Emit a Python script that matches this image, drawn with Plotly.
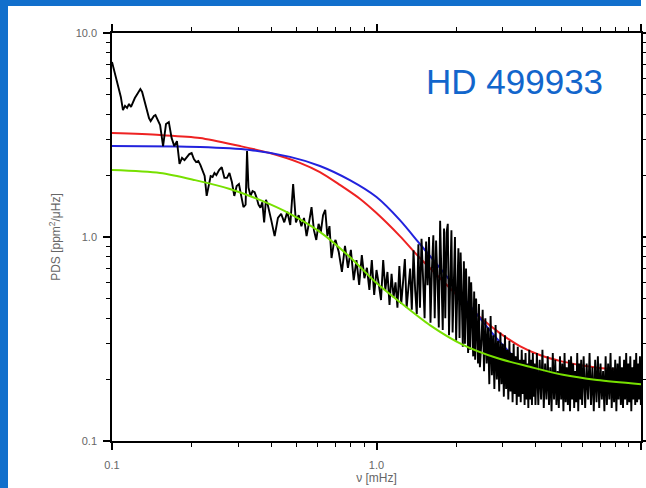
import base64
import plotly.graph_objects as go

# ---------------- data ----------------
# observed power density spectrum
freq = [
    0.100, 0.102, 0.104, 0.106, 0.108, 0.110, 0.112, 0.114, 0.116, 0.118,
    0.120, 0.122, 0.124, 0.126, 0.128, 0.130, 0.132, 0.134, 0.136, 0.138,
    0.140, 0.142, 0.144, 0.146, 0.148, 0.152, 0.156, 0.160, 0.164, 0.168,
    0.172, 0.176, 0.180, 0.184, 0.188, 0.192, 0.196, 0.200, 0.204, 0.208,
    0.212, 0.216, 0.220, 0.224, 0.228, 0.232, 0.236, 0.240, 0.244, 0.248,
    0.254, 0.260, 0.266, 0.272, 0.278, 0.284, 0.290, 0.296, 0.302, 0.308,
    0.314, 0.320, 0.324, 0.328, 0.334, 0.340, 0.346, 0.352, 0.358, 0.364,
    0.370, 0.376, 0.382, 0.388, 0.394, 0.400,
    0.412, 0.424, 0.436, 0.448, 0.460, 0.472, 0.484, 0.496, 0.508, 0.520,
    0.532, 0.544, 0.556, 0.568, 0.580, 0.592, 0.604, 0.616, 0.628, 0.640,
    0.652, 0.664, 0.676, 0.688, 0.700,
    0.72, 0.74, 0.76, 0.78, 0.80, 0.82, 0.84, 0.86, 0.88, 0.90,
    0.92, 0.94, 0.96, 0.98, 1.00, 1.02, 1.04, 1.06, 1.08, 1.10,
    1.12, 1.14, 1.16, 1.18, 1.20,
    1.22, 1.24, 1.26, 1.28, 1.30, 1.32, 1.34, 1.36, 1.38, 1.40,
    1.42, 1.44, 1.46, 1.48, 1.50, 1.52, 1.54, 1.56, 1.58, 1.60,
    1.62, 1.64, 1.66, 1.68, 1.70, 1.72, 1.74, 1.76, 1.78, 1.80,
    1.82, 1.84, 1.86, 1.88, 1.90, 1.92, 1.94, 1.96, 1.98, 2.00,
    2.02, 2.04, 2.06, 2.08, 2.10, 2.12, 2.14, 2.16, 2.18, 2.20,
    2.22, 2.24, 2.26, 2.28, 2.30, 2.32, 2.34, 2.36, 2.38, 2.40,
    2.42, 2.44, 2.46,
    2.49, 2.52, 2.55, 2.58, 2.61, 2.64, 2.67, 2.70, 2.73, 2.76,
    2.79, 2.82, 2.85, 2.88, 2.91, 2.94, 2.97, 3.00, 3.03, 3.06,
    3.09, 3.12, 3.15, 3.18, 3.21, 3.24, 3.27, 3.30, 3.33, 3.36,
    3.39, 3.42, 3.45, 3.48, 3.51, 3.54, 3.57, 3.60, 3.63, 3.66,
    3.69, 3.72, 3.75, 3.78, 3.81, 3.84, 3.87, 3.90, 3.93, 3.96,
    3.99,
    4.04, 4.09, 4.14, 4.19, 4.24, 4.29, 4.34, 4.39, 4.44, 4.49,
    4.54, 4.59, 4.64, 4.69, 4.74, 4.79, 4.84, 4.89, 4.94, 4.99,
    5.04, 5.09, 5.14, 5.19, 5.24, 5.29, 5.34, 5.39, 5.44, 5.49,
    5.54, 5.59, 5.64, 5.69, 5.74, 5.79, 5.84, 5.89, 5.94, 5.99,
    6.07, 6.15, 6.23, 6.31, 6.39, 6.47, 6.55, 6.63, 6.71, 6.79,
    6.87, 6.95, 7.03, 7.11, 7.19, 7.27, 7.35, 7.43, 7.51, 7.59,
    7.67, 7.75, 7.83, 7.91, 7.99, 8.07, 8.15, 8.23, 8.31, 8.39,
    8.47, 8.55, 8.63, 8.71, 8.79, 8.87, 8.95, 9.03, 9.11, 9.19,
    9.27, 9.35, 9.43, 9.51, 9.59, 9.67, 9.75, 9.83, 9.91, 9.99,
]
psd = [
    7.21, 6.51, 6.02, 5.44, 4.86, 4.19, 4.39, 4.29, 4.49, 4.34,
    4.59, 4.80, 4.97, 5.14, 5.31, 5.14, 4.75, 4.34, 4.01, 3.83,
    3.70, 3.83, 3.92, 3.96, 3.79, 3.54, 2.79, 3.58, 3.66, 3.06,
    2.79, 2.95, 2.28, 2.44, 2.38, 2.47, 2.55, 2.58, 2.41, 2.33,
    2.36, 2.25, 2.13, 1.99, 1.59, 1.80, 1.99, 1.97, 2.06, 2.01,
    2.13, 2.20, 1.95, 1.95, 2.06, 1.86, 1.59, 1.78, 1.82, 1.59,
    1.40, 1.44, 2.64, 1.75, 1.59, 1.68, 1.66, 1.56, 1.44, 1.39,
    1.48, 1.18, 1.52, 1.44, 1.33, 1.21,
    1.01, 1.24, 1.30, 1.18, 1.33, 1.145, 1.82, 1.18, 1.28, 1.13,
    1.24, 1.01, 1.18, 1.40, 1.08, 0.967, 1.16, 1.06, 1.28, 1.36,
    1.01, 1.13, 0.789, 0.914, 0.967,
    0.844, 0.674, 0.905, 0.706, 0.864, 0.615, 0.771, 0.582, 0.816, 0.628,
    0.706, 0.550, 0.771, 0.520, 0.689, 0.588, 0.491, 0.771, 0.550, 0.674,
    0.464, 0.660, 0.505, 0.600, 0.450,
    0.72, 0.47, 0.60, 0.78, 0.45, 0.56, 0.70, 0.44, 0.86, 0.55,
    0.42, 0.92, 0.45, 0.98, 0.60, 0.40, 0.95, 0.58, 1.00, 0.38,
    0.70, 1.02, 0.40, 0.96, 0.62, 0.36, 1.20, 0.66, 0.35, 1.10,
    0.40, 1.05, 1.16, 0.33, 0.70, 1.08, 0.34, 0.60, 1.00, 0.31,
    0.55, 0.88, 0.32, 0.84, 0.50, 0.29, 0.76, 0.30, 0.70, 0.45,
    0.27, 0.64, 0.28, 0.60, 0.40, 0.26, 0.54, 0.25, 0.50, 0.36,
    0.24, 0.47, 0.23,
    0.30, 0.44, 0.22, 0.40, 0.24, 0.36, 0.19, 0.41, 0.21, 0.33,
    0.18, 0.37, 0.20, 0.31, 0.175, 0.34, 0.19, 0.30, 0.165, 0.33,
    0.18, 0.28, 0.16, 0.31, 0.175, 0.27, 0.155, 0.30, 0.17, 0.26,
    0.15, 0.29, 0.165, 0.25, 0.155, 0.28, 0.17, 0.25, 0.15, 0.27,
    0.16, 0.24, 0.145, 0.28, 0.16, 0.25, 0.15, 0.27, 0.165, 0.24,
    0.15,
    0.27, 0.15, 0.25, 0.16, 0.28, 0.145, 0.24, 0.16, 0.26, 0.15,
    0.23, 0.14, 0.27, 0.16, 0.25, 0.15, 0.22, 0.145, 0.26, 0.16,
    0.24, 0.14, 0.27, 0.155, 0.23, 0.15, 0.25, 0.14, 0.26, 0.16,
    0.24, 0.145, 0.22, 0.155, 0.27, 0.14, 0.24, 0.16, 0.25, 0.15,
    0.26, 0.145, 0.24, 0.16, 0.27, 0.15, 0.23, 0.14, 0.25, 0.155,
    0.26, 0.145, 0.24, 0.16, 0.22, 0.14, 0.26, 0.15, 0.24, 0.16,
    0.27, 0.145, 0.23, 0.155, 0.25, 0.14, 0.24, 0.16, 0.26, 0.15,
    0.23, 0.145, 0.25, 0.16, 0.27, 0.15, 0.24, 0.155, 0.26, 0.14,
    0.23, 0.16, 0.25, 0.15, 0.27, 0.155, 0.24, 0.16, 0.26, 0.15,
]

# model curves
red_freq = [0.1, 0.152, 0.215, 0.305, 0.395, 0.513, 0.611, 0.727, 0.865, 1.0,
            1.226, 1.459, 1.736, 2.066, 2.458, 2.926, 3.482, 4.144, 4.932,
            5.87, 6.985, 10.0]
red_psd = [3.23, 3.16, 3.06, 2.79, 2.58, 2.31, 2.08, 1.80, 1.54, 1.31,
           1.01, 0.789, 0.630, 0.502, 0.405, 0.338, 0.292, 0.264, 0.247,
           0.236, 0.228, 0.220]

blue_freq = [0.1, 0.215, 0.332, 0.471, 0.611, 0.793, 1.0, 1.226, 1.459, 1.736,
             2.066, 2.458, 2.926, 3.482, 4.144, 5.38, 10.0]
blue_psd = [2.79, 2.76, 2.67, 2.47, 2.23, 1.90, 1.57, 1.21, 0.924, 0.705,
            0.532, 0.401, 0.306, 0.244, 0.215, 0.199, 0.188]

green_freq = [0.1, 0.152, 0.206, 0.279, 0.362, 0.471, 0.611, 0.793, 1.0, 1.226,
              1.591, 2.123, 2.855, 3.80, 5.07, 6.82, 10.0]
green_psd = [2.13, 2.06, 1.90, 1.72, 1.52, 1.30, 1.06, 0.798, 0.595, 0.480,
             0.370, 0.296, 0.255, 0.231, 0.211, 0.199, 0.190]

tick_vals = [0.1, 1.0, 10.0]
tick_text = ["0.1", "1.0", "10.0"]
minor_vals = [0.2, 0.3, 0.4, 0.5, 0.6, 0.7, 0.8, 0.9,
              2, 3, 4, 5, 6, 7, 8, 9]

star_label = "HD 499933"

# ---------------- figure ----------------
fig = go.Figure()
fig.add_trace(go.Scatter(x=red_freq, y=red_psd, mode="lines",
                         line=dict(color="#EE2222", width=2, shape="spline", smoothing=0.8),
                         hoverinfo="skip"))
fig.add_trace(go.Scatter(x=blue_freq, y=blue_psd, mode="lines",
                         line=dict(color="#2222DD", width=2, shape="spline", smoothing=0.8),
                         hoverinfo="skip"))
fig.add_trace(go.Scatter(x=freq, y=psd, mode="lines",
                         line=dict(color="black", width=1.9),
                         hoverinfo="skip"))
fig.add_trace(go.Scatter(x=green_freq, y=green_psd, mode="lines",
                         line=dict(color="#77E000", width=2, shape="spline", smoothing=0.8),
                         hoverinfo="skip"))

tickfont = dict(family="Liberation Sans, Arial, sans-serif", size=11, color="#666666")
titlefont = dict(family="Liberation Sans, Arial, sans-serif", size=12, color="#666666")
axis_common = dict(
    type="log", showline=True, linecolor="black", linewidth=1.5,
    mirror="allticks", ticks="outside", ticklen=7, tickwidth=1.5,
    tickcolor="black", showgrid=False, zeroline=False,
    tickvals=tick_vals, ticktext=tick_text, tickfont=tickfont,
    minor=dict(tickvals=minor_vals, ticks="outside", ticklen=4,
               tickwidth=1.2, tickcolor="black", showgrid=False),
)

W = 646 - 112 - 5
H = 488 - 33 - 47
slide_blue = "#116FCC"

fig.update_layout(
    width=646, height=488,
    margin=dict(l=112, r=5, t=33, b=47, autoexpand=False),
    paper_bgcolor="white",
    plot_bgcolor="white",
    showlegend=False,
    hovermode=False,
    xaxis=dict(range=[-1, 1], ticklabelstandoff=6,
               title=dict(text="ν [mHz]", font=titlefont, standoff=0),
               **axis_common),
    yaxis=dict(range=[-1, 1], ticklabelstandoff=4,
               title=dict(text="PDS [ppm<sup>2</sup>/μHz]", font=titlefont, standoff=12),
               **axis_common),
    shapes=[
        # left strip of the slide background
        dict(type="rect", xref="paper", yref="paper",
             x0=(0 - 112) / W, x1=(8 - 112) / W,
             y0=(441 - 488) / H, y1=(441 - 0) / H,
             fillcolor=slide_blue, line=dict(width=0), layer="above"),
        # top strip of the slide background (stops at the plot's right edge)
        dict(type="rect", xref="paper", yref="paper",
             x0=(0 - 112) / W, x1=1.0,
             y0=(441 - 6) / H, y1=(441 - 0) / H,
             fillcolor=slide_blue, line=dict(width=0), layer="above"),
    ],
    annotations=[dict(text=star_label, xref="paper", yref="paper",
                      x=(514 - 112) / W, y=(441 - 81) / H,
                      xanchor="center", yanchor="middle",
                      showarrow=False,
                      font=dict(family="Liberation Sans, Arial, sans-serif",
                                size=35, color="#1266CC"))],
)

fig.write_html("out.html", config={"displayModeBar": False})
